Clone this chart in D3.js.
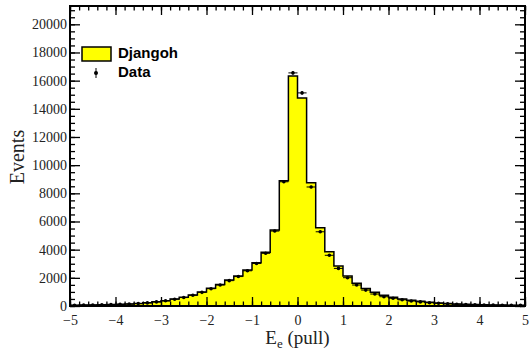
<!DOCTYPE html>
<html lang="en">
<head>
    <meta charset="UTF-8">
    <title>Ee pull</title>
    <script src="https://d3js.org/d3.v7.min.js"></script>
    <style>
        body {margin: 0; background: white;}
        svg {display: block;}
    </style>
</head>
<body>
<script>
    const width = 531;
    const height = 353;
    const margin = {top: 6, right: 6, bottom: 47, left: 70};

    // bin left edges, width 0.2
    const binEdges = d3.range(50).map(i => +(-5 + i * 0.2).toFixed(1));
    const binWidth = 0.2;

    // Djangoh MC (events per bin)
    const djangoh = [
        55, 65, 75, 85, 100, 120, 145, 180, 230, 300,
        380, 500, 620, 780, 990, 1260, 1520, 1840, 2130, 2550,
        3070, 3810, 5390, 8890, 16330,
        14770, 8750, 5550, 3850, 2840, 2130, 1610, 1250, 970, 760,
        620, 500, 400, 330, 260, 210, 170, 140, 120, 100,
        85, 75, 65, 55, 50
    ];

    // Data (events per bin)
    const data = [
        50, 60, 70, 80, 95, 115, 140, 175, 220, 290,
        370, 480, 600, 760, 970, 1230, 1490, 1800, 2090, 2500,
        3020, 3740, 5320, 8820, 16550,
        15130, 8450, 5270, 3600, 2670, 2010, 1490, 1130, 850, 660,
        550, 440, 350, 290, 230, 190, 150, 125, 105, 90,
        75, 65, 55, 50, 45
    ];

    const xTicks = [-5, -4, -3, -2, -1, 0, 1, 2, 3, 4, 5];
    const yTicks = [0, 2000, 4000, 6000, 8000, 10000, 12000, 14000, 16000, 18000, 20000];

    const svg = d3.select("body").append("svg")
            .attr("width", width).attr("height", height);

    const x = d3.scaleLinear().domain([-5, 5]).range([margin.left, width - margin.right]);
    const y = d3.scaleLinear().domain([0, 21300]).range([height - margin.bottom, margin.top]);

    // histogram outline as a step path
    const pts = [[-5, 0]];
    binEdges.forEach((e, i) => {
        pts.push([e, djangoh[i]]);
        pts.push([e + binWidth, djangoh[i]]);
    });
    pts.push([5, 0]);

    const line = d3.line().x(d => x(d[0])).y(d => y(d[1]));

    svg.append("path").attr("class", "djangoh")
            .datum(pts)
            .attr("d", line)
            .style("fill", "#ffff00")
            .style("stroke", "black")
            .style("stroke-width", 1.5);

    // data points
    const pt = svg.append("g").attr("class", "data")
            .selectAll("g")
            .data(binEdges.map((e, i) => ({x0: e, v: data[i]})))
            .enter().append("g");

    pt.append("line")
            .attr("x1", d => x(d.x0)).attr("x2", d => x(d.x0 + binWidth))
            .attr("y1", d => y(d.v)).attr("y2", d => y(d.v))
            .style("stroke", "black").style("stroke-width", 1);
    pt.append("line")
            .attr("x1", d => x(d.x0 + binWidth / 2)).attr("x2", d => x(d.x0 + binWidth / 2))
            .attr("y1", d => y(d.v + Math.sqrt(d.v))).attr("y2", d => y(d.v - Math.sqrt(d.v)))
            .style("stroke", "black").style("stroke-width", 1);
    pt.append("circle")
            .attr("cx", d => x(d.x0 + binWidth / 2))
            .attr("cy", d => y(d.v))
            .attr("r", 1.8)
            .style("fill", "black");

    // axes, ROOT style ticks pointing inward
    const fmt = d => d < 0 ? "\u2212" + Math.abs(d) : String(d);
    const xMinor = d3.range(-5, 5.001, 0.2).map(v => +v.toFixed(1));
    const yMinor = d3.range(0, 21300, 500);

    function tickStyle(g) {
        g.select(".domain").remove();
        g.selectAll("line").style("stroke", "black").style("stroke-width", 1.3);
        g.selectAll("text").style("font-family", "'Liberation Serif', 'Times New Roman', serif")
                .style("font-size", "14px").style("fill", "#222");
    }

    const xb = height - margin.bottom;
    svg.append("g").attr("transform", `translate(0,${xb})`)
            .call(d3.axisBottom(x).tickValues(xMinor).tickSize(-4.5).tickFormat(""))
            .call(tickStyle);
    svg.append("g").attr("transform", `translate(0,${xb})`)
            .call(d3.axisBottom(x).tickValues(xTicks).tickSize(-9).tickPadding(9).tickFormat(fmt))
            .call(tickStyle);
    svg.append("g").attr("transform", `translate(0,${margin.top})`)
            .call(d3.axisTop(x).tickValues(xMinor).tickSize(-4.5).tickFormat(""))
            .call(tickStyle);
    svg.append("g").attr("transform", `translate(0,${margin.top})`)
            .call(d3.axisTop(x).tickValues(xTicks).tickSize(-9).tickFormat(""))
            .call(tickStyle);

    svg.append("g").attr("transform", `translate(${margin.left},0)`)
            .call(d3.axisLeft(y).tickValues(yMinor).tickSize(-5).tickFormat(""))
            .call(tickStyle);
    svg.append("g").attr("transform", `translate(${margin.left},0)`)
            .call(d3.axisLeft(y).tickValues(yTicks).tickSize(-10).tickPadding(3).tickFormat(d3.format("d")))
            .call(tickStyle);
    svg.append("g").attr("transform", `translate(${width - margin.right},0)`)
            .call(d3.axisRight(y).tickValues(yMinor).tickSize(-5).tickFormat(""))
            .call(tickStyle);
    svg.append("g").attr("transform", `translate(${width - margin.right},0)`)
            .call(d3.axisRight(y).tickValues(yTicks).tickSize(-10).tickFormat(""))
            .call(tickStyle);

    // frame
    svg.append("rect").attr("class", "frame")
            .attr("x", margin.left).attr("y", margin.top)
            .attr("width", width - margin.left - margin.right)
            .attr("height", height - margin.top - margin.bottom)
            .style("fill", "none").style("stroke", "black").style("stroke-width", 2);

    // axis titles
    const xt = svg.append("text")
            .attr("x", x(0)).attr("y", 344)
            .attr("text-anchor", "middle")
            .style("font-family", "'Liberation Serif', 'Times New Roman', serif")
            .style("font-size", "19px").style("fill", "#222");
    xt.append("tspan").text("E");
    xt.append("tspan").attr("dy", 4).style("font-size", "13px").text("e");
    xt.append("tspan").attr("dy", -4).text(" (pull)");

    svg.append("text")
            .attr("transform", "translate(24,157) rotate(-90)")
            .attr("text-anchor", "middle")
            .style("font-family", "'Liberation Serif', 'Times New Roman', serif")
            .style("font-size", "20px").style("fill", "#222")
            .text("Events");

    // legend
    const lg = svg.append("g").attr("class", "legend");
    lg.append("rect")
            .attr("x", 82).attr("y", 47).attr("width", 29).attr("height", 14)
            .style("fill", "#ffff00").style("stroke", "black").style("stroke-width", 1.5);
    lg.append("text").attr("x", 118).attr("y", 58)
            .style("font-family", "'Liberation Sans', Arial, sans-serif")
            .style("font-weight", "bold").style("font-size", "15px")
            .text("Djangoh");
    lg.append("line")
            .attr("x1", 96).attr("x2", 96).attr("y1", 68).attr("y2", 78)
            .style("stroke", "black").style("stroke-width", 1);
    lg.append("circle").attr("cx", 96).attr("cy", 73).attr("r", 2)
            .style("fill", "black");
    lg.append("text").attr("x", 118).attr("y", 77)
            .style("font-family", "'Liberation Sans', Arial, sans-serif")
            .style("font-weight", "bold").style("font-size", "15px")
            .text("Data");
</script>
</body>
</html>
